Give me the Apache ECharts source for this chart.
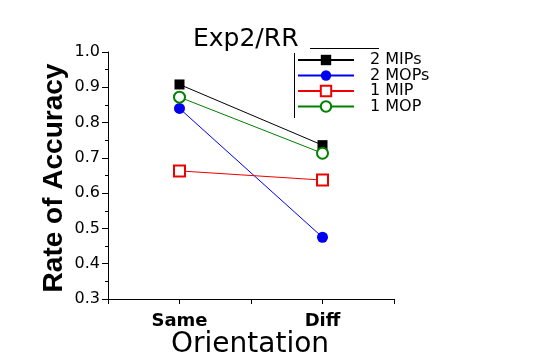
<!DOCTYPE html>
<html>
<head>
<meta charset="utf-8">
<script src="https://cdn.jsdelivr.net/npm/echarts@6/dist/echarts.min.js"></script>
<style>html,body{margin:0;padding:0;background:#fff}#c{width:540px;height:360px}</style>
</head>
<body>
<div id="c"></div>
<script>
var categories = ['Same', 'Diff'];
var seriesNames = ['2 MIPs', '2 MOPs', '1 MIP', '1 MOP'];
var mips2 = [0.908, 0.736];
var mops2 = [0.840, 0.475];
var mip1 = [0.663, 0.637];
var mop1 = [0.872, 0.713];
var yTicks = [0.3, 0.4, 0.5, 0.6, 0.7, 0.8, 0.9, 1.0];

function pts(vals) { return vals.map(function (v, i) { return [1 + 2 * i, v]; }); }

var chart = echarts.init(document.getElementById('c'), null, {renderer: 'canvas'});
var font = 'DejaVu Sans';
chart.setOption({
  backgroundColor: '#fff',
  animation: false,
  grid: {left: 108, right: 146, top: 52, bottom: 61, containLabel: false},
  legend: {
    orient: 'vertical', left: 297, top: 52, padding: 0, itemGap: -0.5,
    itemWidth: 56, itemHeight: 13,
    textStyle: {fontFamily: font, fontSize: 16, color: '#000', lineHeight: 13, padding: [0, 0, 0, 11]},
    data: seriesNames
  },
  xAxis: {
    type: 'value', min: 0, max: 4, interval: 1,
    axisLine: {lineStyle: {color: '#000', width: 1}},
    axisTick: {length: 5, lineStyle: {color: '#000'}},
    splitLine: {show: false},
    axisLabel: {
      margin: 13, color: '#000', fontFamily: font, fontWeight: 'bold', fontSize: 18,
      formatter: function (v) { var i = (v - 1) / 2; return (i === 0 || i === 1) ? categories[i] : ''; }
    }
  },
  yAxis: {
    type: 'value', min: 0.3, max: 1.0, interval: 0.1,
    axisLine: {show: true, lineStyle: {color: '#000', width: 1}},
    axisTick: {show: true, length: 6, lineStyle: {color: '#000'}},
    minorTick: {show: true, splitNumber: 2, length: 3, lineStyle: {color: '#000'}},
    splitLine: {show: false},
    axisLabel: {
      margin: 8, color: '#000', fontFamily: font, fontSize: 16,
      formatter: function (v) {
        for (var k = 0; k < yTicks.length; k++) { if (Math.abs(yTicks[k] - v) < 1e-6) return yTicks[k].toFixed(1); }
        return '';
      }
    }
  },
  series: [
    {name: seriesNames[0], type: 'line', data: pts(mips2), symbol: 'rect', symbolSize: 10,
     color: '#000', lineStyle: {color: '#000', width: 1}, itemStyle: {color: '#000'}},
    {name: seriesNames[1], type: 'line', data: pts(mops2), symbol: 'circle', symbolSize: 11,
     color: '#0000ee', lineStyle: {color: '#0000ee', width: 1}, itemStyle: {color: '#0000ee'}},
    {name: seriesNames[2], type: 'line', data: pts(mip1), symbol: 'emptyRect', symbolSize: 11,
     color: '#ee0000', lineStyle: {color: '#ee0000', width: 1}, itemStyle: {color: '#ee0000', borderWidth: 1}},
    {name: seriesNames[3], type: 'line', data: pts(mop1), symbol: 'emptyCircle', symbolSize: 11,
     color: '#008000', lineStyle: {color: '#008000', width: 1}, itemStyle: {color: '#008000', borderWidth: 1}}
  ],
  graphic: [
    {type: 'text', left: 193, top: 27, style: {text: 'Exp2/RR', font: 'normal 25px "DejaVu Sans"', fill: '#000'}},
    {type: 'text', left: 171, top: 331, style: {text: 'Orientation', font: 'normal 28px "DejaVu Sans"', fill: '#000'}},
    {type: 'text', x: 40, y: 178, rotation: Math.PI / 2, style: {text: 'Rate of Accuracy', font: 'bold 28px "Liberation Sans"', fill: '#000', align: 'center', verticalAlign: 'top'}},
    {type: 'line', shape: {x1: 310, y1: 48.5, x2: 379, y2: 48.5}, style: {stroke: '#000', lineWidth: 1}},
    {type: 'line', shape: {x1: 294.5, y1: 53, x2: 294.5, y2: 118}, style: {stroke: '#000', lineWidth: 1}}
  ]
});
</script>
</body>
</html>
